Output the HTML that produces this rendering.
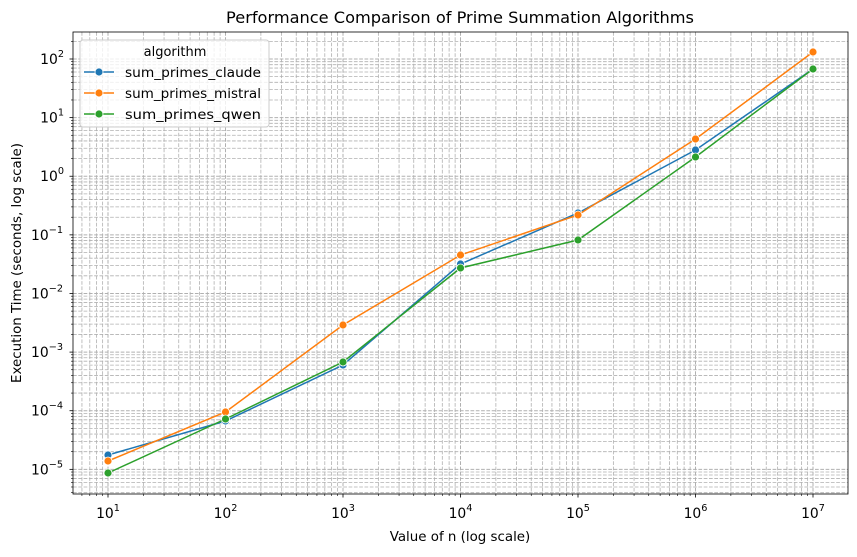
<!DOCTYPE html><html><head><style>body{margin:0;background:#fff}svg{font-family:"DejaVu Sans","Liberation Sans",sans-serif}</style></head><body>
<svg id="s" width="857" height="552" xmlns="http://www.w3.org/2000/svg"></svg>
<script>
const s=document.getElementById('s');let h='';
const L=73,R=848,T=32,B=494;
const X=l=>108+(l-1)*117.5, Y=l=>59+(2-l)*58.62;
for(let d=0;d<=7;d++)for(let m=1;m<10;m++){const l=d+Math.log10(m);const x=X(l);if(x>L&&x<R)h+=`<line x1="${x}" x2="${x}" y1="${T}" y2="${B}" stroke="#b0b0b0" stroke-width="${m==1?1:0.8}" stroke-dasharray="3.7,1.6"/>`;
 if(x>=L&&x<=R)h+=`<line x1="${x}" x2="${x}" y1="${B}" y2="${B+(m==1?3.5:2)}" stroke="#000" stroke-width="${m==1?0.8:0.6}"/>`;}
for(let d=-6;d<=2;d++)for(let m=1;m<10;m++){const l=d+Math.log10(m);const y=Y(l);if(y>T&&y<B)h+=`<line x1="${L}" x2="${R}" y1="${y}" y2="${y}" stroke="#b0b0b0" stroke-width="${m==1?1:0.8}" stroke-dasharray="3.7,1.6"/>`;
 if(y>=T&&y<=B)h+=`<line x1="${L}" x2="${L-(m==1?3.5:2)}" y1="${y}" y2="${y}" stroke="#000" stroke-width="${m==1?0.8:0.6}"/>`;}
const xs=[1,2,3,4,5,6,7].map(X);
const S=[["#1f77b4",[455,421,365,264,213,150,69]],["#ff7f0e",[461,412,325,255,215,139,52]],["#2ca02c",[473,419,362,268,240,157,69]]];
for(const[c,ys]of S){h+=`<polyline fill="none" stroke="${c}" stroke-width="1.5" points="${ys.map((y,i)=>xs[i]+','+y).join(' ')}"/>`;
 ys.forEach((y,i)=>h+=`<circle cx="${xs[i]}" cy="${y}" r="4" fill="${c}" stroke="#fff" stroke-width="0.8"/>`);}
h+=`<rect x="${L}" y="${T}" width="${R-L}" height="${B-T}" fill="none" stroke="#000" stroke-width="0.8"/>`;
for(let d=1;d<=7;d++)h+=`<text x="${X(d)}" y="518" font-size="13.9" text-anchor="middle">10<tspan dy="-7" font-size="9.7">${d}</tspan></text>`;
for(let d=-5;d<=2;d++)h+=`<text x="${d<0?63:64}" y="${Y(d)+5}" font-size="13.9" text-anchor="end">10<tspan dy="-7" font-size="9.7">${d<0?'−'+(-d):d}</tspan></text>`;
h+=`<text x="460" y="23" font-size="16.2" text-anchor="middle">Performance Comparison of Prime Summation Algorithms</text>`;
h+=`<text x="460" y="541" font-size="13.4" text-anchor="middle">Value of n (log scale)</text>`;
h+=`<text transform="translate(21,263) rotate(-90)" font-size="13.4" text-anchor="middle">Execution Time (seconds, log scale)</text>`;
h+=`<rect x="80" y="40" width="189" height="87" rx="3" fill="#fff" fill-opacity="0.8" stroke="#ccc"/>`;
h+=`<text x="175" y="56" font-size="13" text-anchor="middle">algorithm</text>`;
["sum_primes_claude","sum_primes_mistral","sum_primes_qwen"].forEach((n,i)=>{const y=72+i*21,c=S[i][0];
 h+=`<line x1="84" x2="114" y1="${y}" y2="${y}" stroke="${c}" stroke-width="1.5"/><circle cx="99" cy="${y}" r="4" fill="${c}" stroke="#fff" stroke-width="0.8"/><text x="125" y="${y+5}" font-size="13" textLength="136" lengthAdjust="spacingAndGlyphs">${n}</text>`;});
s.innerHTML=h;
</script></body></html>
